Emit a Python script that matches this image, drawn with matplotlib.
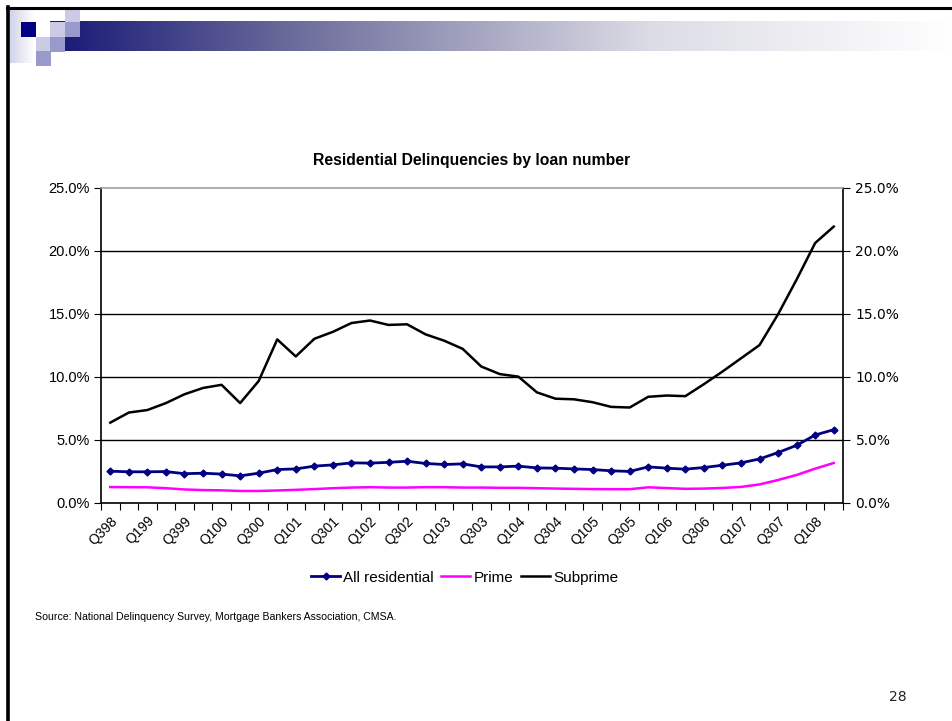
import numpy as np
from matplotlib import pyplot as plt
from matplotlib.patches import Rectangle
from matplotlib.lines import Line2D

# quarterly delinquency rates (%), Q398 .. Q208
all_residential = [2.50, 2.45, 2.45, 2.47, 2.30, 2.34, 2.27, 2.13, 2.34, 2.63,
                   2.68, 2.90, 3.00, 3.16, 3.14, 3.20, 3.29, 3.11, 3.03, 3.08,
                   2.84, 2.84, 2.90, 2.76, 2.74, 2.68, 2.63, 2.53, 2.48, 2.84,
                   2.74, 2.66, 2.79, 2.97, 3.16, 3.47, 3.98, 4.55, 5.37, 5.79]
prime = [1.24, 1.23, 1.22, 1.15, 1.05, 1.00, 0.98, 0.93, 0.93, 0.97,
         1.02, 1.08, 1.15, 1.20, 1.23, 1.20, 1.20, 1.23, 1.23, 1.20,
         1.20, 1.18, 1.18, 1.15, 1.12, 1.10, 1.08, 1.07, 1.07, 1.22,
         1.16, 1.10, 1.12, 1.17, 1.25, 1.45, 1.80, 2.20, 2.70, 3.15]
subprime = [6.35, 7.15, 7.35, 7.90, 8.60, 9.10, 9.35, 7.90, 9.65, 12.95,
            11.60, 13.00, 13.55, 14.25, 14.45, 14.10, 14.15, 13.35, 12.85, 12.20,
            10.80, 10.20, 10.00, 8.75, 8.25, 8.20, 7.97, 7.60, 7.55, 8.40,
            8.50, 8.45, 9.40, 10.40, 11.45, 12.50, 14.95, 17.70, 20.60, 21.90]

# every other quarter is labelled
tick_labels = ['Q398', 'Q199', 'Q399', 'Q100', 'Q300', 'Q101', 'Q301', 'Q102',
               'Q302', 'Q103', 'Q303', 'Q104', 'Q304', 'Q105', 'Q305', 'Q106',
               'Q306', 'Q107', 'Q307', 'Q108']
y_ticks = [0, 5, 10, 15, 20, 25]

W, H = 952, 721
fig = plt.figure(figsize=(W / 100, H / 100), dpi=100)

# ---- slide decoration (pixel coords) ----
deco = fig.add_axes([0, 0, 1, 1])
deco.set_xlim(0, W)
deco.set_ylim(H, 0)
deco.axis('off')

# gradient bar
gx = np.arange(50, W)
stops = [50, 65, 300, 650, 952]
r = np.interp(gx, stops, [28, 28, 110, 220, 255])
g = np.interp(gx, stops, [28, 28, 110, 220, 255])
b = np.interp(gx, stops, [120, 120, 156, 230, 255])
grad = np.stack([r, g, b], axis=-1)[None, :, :] / 255
deco.imshow(grad, extent=(50, W, 51, 21), aspect='auto', zorder=1)

# pale strip at left
sx = np.arange(8, 36)
sv = np.interp(sx, [8, 34], [0, 1])
strip = np.stack([208 + 47 * sv, 208 + 47 * sv, 232 + 23 * sv], axis=-1)[None] / 255
deco.imshow(strip, extent=(8, 36, 63, 10), aspect='auto', zorder=1)

light, medium, dark = '#cbcbe6', '#9999cc', '#000080'
squares = [(21, 22, dark), (50, 22, light), (65, 8, light), (65, 22, medium),
           (36, 37, light), (50, 37, medium), (36, 51, medium)]
for x0, y0, c in squares:
    deco.add_patch(Rectangle((x0, y0), 14.5, 14.5, color=c, lw=0, zorder=2))

deco.add_line(Line2D([7, W], [8, 8], color='black', lw=2.2, zorder=3))
deco.add_line(Line2D([8, 8], [7, H], color='black', lw=2.6, zorder=3))

deco.text(898, 697, '28', fontsize=10, family='DejaVu Sans', color='#222222',
          ha='center', va='center')
deco.text(35, 617, 'Source: National Delinquency Survey, Mortgage Bankers Association, CMSA.',
          fontsize=7.6, family='Liberation Sans', ha='left', va='center')
deco.text(472, 160, 'Residential Delinquencies by loan number', fontsize=11.3,
          family='Liberation Sans', fontweight='bold', ha='center', va='center')

# ---- chart ----
ax = fig.add_axes([101 / W, 1 - 502.7 / H, 742 / W, 315.2 / H])
ax.set_facecolor('none')
n = len(subprime)
xs = np.arange(n) + 0.5

ax.plot(xs, all_residential, color='#000080', lw=2, marker='D', ms=3.5,
        label='All residential', zorder=4)
ax.plot(xs, prime, color='#ff00ff', lw=1.8, label='Prime', zorder=3)
ax.plot(xs, subprime, color='black', lw=1.8, label='Subprime', zorder=3)

ax.set_xlim(0, n)
ax.set_ylim(0, 25)
ax.set_yticks(y_ticks)
ax.set_yticklabels([f'{v:.1f}%' for v in y_ticks], family='Liberation Sans', fontsize=10.5)
for v in y_ticks[1:-1]:
    ax.axhline(v, color='black', lw=1, zorder=1)

ax.set_xticks(np.arange(n + 1))
ax.set_xticklabels([])
ax.set_xticks(xs[::2], minor=True)
ax.set_xticklabels(tick_labels, minor=True, rotation=45, ha='right',
                   rotation_mode='anchor', family='Liberation Sans', fontsize=10)
ax.tick_params(axis='x', which='major', length=5, direction='out', color='black')
ax.tick_params(axis='x', which='minor', length=0, pad=8)
ax.tick_params(axis='y', length=5, direction='out', pad=3)

for s in ['left', 'bottom', 'right']:
    ax.spines[s].set_color('black')
    ax.spines[s].set_linewidth(1.2)
ax.spines['top'].set_color('#a0a0a0')
ax.spines['top'].set_linewidth(1.2)

ax2 = ax.twinx()
ax2.set_ylim(0, 25)
ax2.set_yticks(y_ticks)
ax2.set_yticklabels([f'{v:.1f}%' for v in y_ticks], family='DejaVu Sans', fontsize=10)
ax2.tick_params(axis='y', length=5, direction='out', pad=4)
for s in ax2.spines.values():
    s.set_visible(False)

leg = ax.legend(loc='center', bbox_to_anchor=(0.49, -0.238), ncol=3, frameon=False,
                prop={'family': 'Liberation Sans', 'size': 11}, handlelength=1.9,
                handletextpad=0.2, columnspacing=0.5, borderaxespad=0)

fig.savefig('out.png', dpi=100)
